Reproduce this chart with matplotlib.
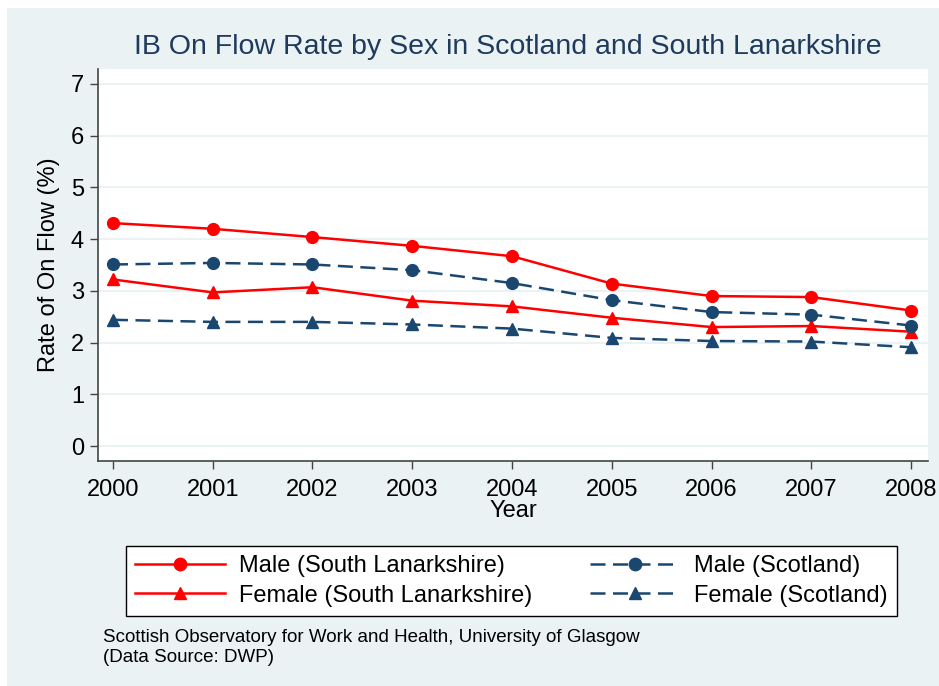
import matplotlib
matplotlib.use('Agg')
from matplotlib import pyplot as plt

plt.rcParams['font.family'] = ['Liberation Sans', 'DejaVu Sans']

years = [2000, 2001, 2002, 2003, 2004, 2005, 2006, 2007, 2008]

male_sl = [4.31, 4.20, 4.04, 3.87, 3.67, 3.14, 2.90, 2.88, 2.62]
female_sl = [3.22, 2.97, 3.07, 2.81, 2.70, 2.48, 2.30, 2.32, 2.21]
male_scot = [3.51, 3.54, 3.51, 3.40, 3.15, 2.82, 2.59, 2.54, 2.33]
female_scot = [2.44, 2.40, 2.40, 2.35, 2.27, 2.09, 2.03, 2.02, 1.91]

y_ticks = [0, 1, 2, 3, 4, 5, 6, 7]

W, H = 939, 686
bg = '#eaf2f3'
red = '#ff0000'
navy = '#1a476f'

fig = plt.figure(figsize=(W / 100, H / 100), dpi=100)
fig.patch.set_facecolor('white')

# outer light panel behind everything
back = fig.add_axes([7 / W, 0, 1 - 7 / W, 1 - 8 / H], zorder=-10)
back.set_facecolor(bg)
back.set_xticks([])
back.set_yticks([])
for s in back.spines.values():
    s.set_visible(False)

ax = fig.add_axes([98 / W, (H - 461) / H, 830 / W, 392 / H])
ax.set_facecolor('white')

ax.plot(years, male_sl, color=red, lw=1.8, marker='o', ms=8.5, label='Male (South Lanarkshire)')
ax.plot(years, female_sl, color=red, lw=1.8, marker='^', ms=8.5, label='Female (South Lanarkshire)')
ax.plot(years, male_scot, color=navy, lw=1.8, ls=(0, (6, 3)), marker='o', ms=8.5,
        label='Male (Scotland)')
ax.plot(years, female_scot, color=navy, lw=1.8, ls=(0, (6, 3)), marker='^', ms=8.5,
        label='Female (Scotland)')

ax.set_xlim(1999.85, 2008.17)
ax.set_ylim(-0.29, 7.29)
ax.set_xticks(years)
ax.set_yticks(y_ticks)
ax.grid(axis='y', color=bg, lw=1.5)
ax.set_axisbelow(True)

for s in ['top', 'right']:
    ax.spines[s].set_visible(False)
for s in ['left', 'bottom']:
    ax.spines[s].set_color('#444444')
    ax.spines[s].set_linewidth(1.2)

ax.tick_params(axis='both', direction='out', length=6, width=1, color='#444444',
               labelsize=17, labelcolor='black')
ax.tick_params(axis='x', pad=7)
ax.tick_params(axis='y', pad=4)

ax.set_xlabel('Year', fontsize=17, labelpad=-1)
ax.set_ylabel('Rate of On Flow (%)', fontsize=17, labelpad=8)

fig.text(508 / W, 1 - 47 / H, 'IB On Flow Rate by Sex in Scotland and South Lanarkshire',
         ha='center', va='center', fontsize=20.5, color='#1e3a5c')

leg = fig.legend(loc='lower left', ncol=2, mode='expand',
                 bbox_to_anchor=(126 / W, 1 - 616 / H, 771 / W, 78 / H),
                 fontsize=17, handlelength=3.8, numpoints=1, frameon=True,
                 fancybox=False, borderaxespad=0, labelspacing=0.3,
                 handletextpad=0.6, columnspacing=0.6, framealpha=1, markerscale=1.05)
leg.get_frame().set_edgecolor('black')
leg.get_frame().set_linewidth(1)
leg.get_frame().set_facecolor('white')

fig.text(103 / W, 1 - 638 / H, 'Scottish Observatory for Work and Health, University of Glasgow',
         ha='left', va='center', fontsize=13.5)
fig.text(103 / W, 1 - 658 / H, '(Data Source: DWP)', ha='left', va='center', fontsize=13.5)

fig.savefig('out.png', dpi=100, facecolor=fig.get_facecolor())
